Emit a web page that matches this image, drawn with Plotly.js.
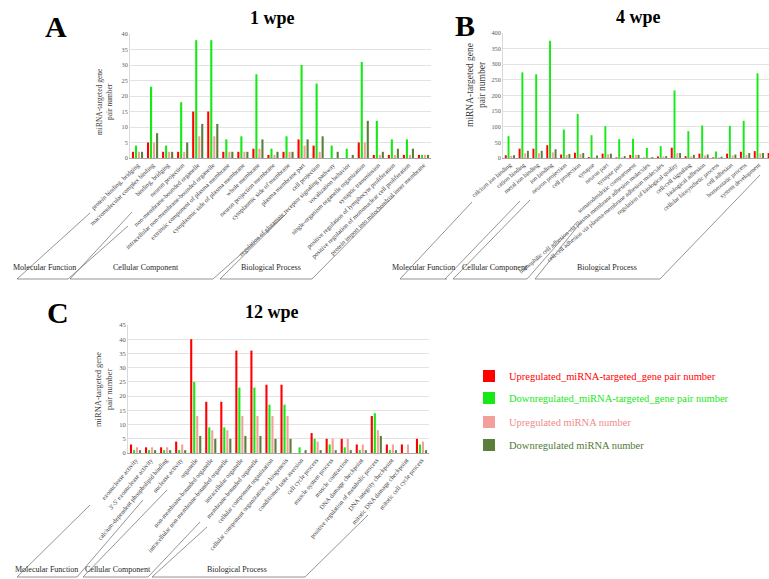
<!DOCTYPE html>
<html>
<head>
<meta charset="utf-8">
<script src="https://cdn.plot.ly/plotly-3.0.1.min.js"></script>
<style>html,body{margin:0;padding:0;background:#fff;}#chart{width:769px;height:579px;}</style>
</head>
<body>
<div id="chart"></div>
<script>
// ---------- DATA ----------
const seriesNames = [
  "Upregulated_miRNA-targeted_gene pair number",
  "Downregulated_miRNA-targeted_gene pair number",
  "Upregulated miRNA number",
  "Downregulated miRNA number"
];

const catsA = [
  "protein binding, bridging","macromolecular complex binding","binding, bridging",
  "neuron projection","non-membrane-bounded organelle","intracellular non-membrane-bounded organelle",
  "extrinsic component of plasma membrane","cytoplasmic side of plasma membrane","whole membrane",
  "neuron projection membrane","cytoplasmic side of membrane","plasma membrane part","cell projection",
  "regulation of glutamate receptor signaling pathway","vocalization behavior",
  "single-organism organelle organization","synaptic transmission",
  "positive regulation of lymphocyte proliferation","positive regulation of mononuclear cell proliferation",
  "protein import into mitochondrial inner membrane"
];
const upGeneA   = [2,5,2,2,15,15,2,2,3,1,2,6,4,0,0,5,1,1,1,1];
const downGeneA = [4,23,4,18,38,38,6,7,27,3,7,30,24,4,3,31,12,6,6,1];
const upMiA     = [2,5,2,2,7,7,2,2,3,1,2,4,2,0,0,5,1,1,1,1];
const downMiA   = [2,8,2,5,11,11,2,2,6,2,2,6,7,2,1,12,2,3,3,1];

const catsB = [
  "calcium ion binding","cation binding","metal ion binding","ion binding",
  "neuron projection","cell projection","synapse","neuron part","synapse part",
  "somatodendritic compartment",
  "homophilic cell adhesion via plasma membrane adhesion molecules",
  "cell-cell adhesion via plasma-membrane adhesion molecules",
  "regulation of biological quality","cell-cell signaling","biological adhesion",
  "cellular biosynthetic process","cell adhesion","homeostatic process","system development",
  "regulation of multicellular organismal process"
];
const upGeneB   = [9,30,30,41,11,17,3,14,2,10,1,5,33,6,14,2,14,20,22,16];
const downGeneB = [70,274,268,375,91,141,73,102,60,62,32,38,216,86,104,21,103,119,271,null];
const upMiB     = [7,15,15,18,10,13,2,12,2,10,1,5,16,5,8,2,8,10,15,null];
const downMiB   = [9,23,23,28,13,16,8,14,6,10,3,6,16,10,11,4,11,16,16,null];

const catsC = [
  "exonuclease activity","3'-5' exonuclease activity","calcium-dependent phospholipid binding",
  "nuclease activity","organelle","non-membrane-bounded organelle",
  "intracellular non-membrane-bounded organelle","intracellular organelle","membrane-bounded organelle",
  "cellular component organization","cellular component organization or biogenesis",
  "conditioned taste aversion","cell cycle process","muscle system process","muscle contraction",
  "DNA damage checkpoint","positive regulation of metabolic process","DNA integrity checkpoint",
  "mitotic DNA damage checkpoint","mitotic cell cycle process"
];
const upGeneC   = [3,2,2,4,40,18,18,36,36,24,24,0,7,5,5,3,13,3,3,5];
const downGeneC = [1,1,1,1,25,9,9,23,23,17,17,2,5,3,2,1,14,1,0,3];
const upMiC     = [2,2,2,3,13,8,8,13,13,13,13,0,4,5,5,3,8,3,3,4];
const downMiC   = [1,1,1,1,6,5,5,6,6,5,5,1,1,1,1,1,6,1,0,1];

const groupNames = ["Molecular Function","Cellular Component","Biological Process"];
const panelTitles = ["1 wpe","4 wpe","12 wpe"];
const panelLetters = ["A","B","C"];

// ---------- STYLE ----------
const W = 769, H = 579;
const SERIF = "Liberation Serif, Times New Roman, serif";
const barColors = ["#ff0000","#16ea16","#f3a09a","#5b7f3b"];
const legendColors = ["#ff0000","#17e817","#f08a8a","#4f7a35"];
const legendIds = ["legend","legend2","legend3","legend4"];
const px = x => x / W;
const py = y => 1 - y / H;

const panels = [
  {cats: catsA, vals: [upGeneA, downGeneA, upMiA, downMiA], xa: "x",  ya: "y"},
  {cats: catsB, vals: [upGeneB, downGeneB, upMiB, downMiB], xa: "x2", ya: "y2"},
  {cats: catsC, vals: [upGeneC, downGeneC, upMiC, downMiC], xa: "x3", ya: "y3"}
];

const traces = [];
panels.forEach((p, pi) => {
  p.vals.forEach((v, si) => {
    traces.push({
      type: "bar",
      x: p.cats,
      y: v,
      name: seriesNames[si],
      xaxis: p.xa,
      yaxis: p.ya,
      marker: {color: barColors[si]},
      showlegend: pi === 2,
      legend: legendIds[si],
      hoverinfo: "x+y"
    });
  });
});

function xAxis(anchor, domain, range, size, angle) {
  return {
    anchor: anchor,
    domain: domain, type: "category", range: range,
    tickmode: "linear", tick0: 0, dtick: 1,
    tickangle: angle, tickfont: {family: SERIF, size: size, color: "#3a3a3a"},
    showline: true, linecolor: "#a6a6a6", linewidth: 1,
    showgrid: false, zeroline: false, ticks: "", automargin: false, fixedrange: true
  };
}
function yAxis(anchor, domain, range, dtick, size) {
  return {
    anchor: anchor,
    domain: domain, range: range, tickmode: "linear", tick0: 0, dtick: dtick,
    tickfont: {family: SERIF, size: size, color: "#595959"},
    showline: true, linecolor: "#d9d9d9", linewidth: 1,
    showgrid: true, gridcolor: "#e3e3e3", gridwidth: 1,
    zeroline: false, ticks: "", automargin: false, fixedrange: true
  };
}

const annotations = [];
function addText(text, x, y, size, opts) {
  annotations.push(Object.assign({
    text: text, x: px(x), y: py(y), xref: "paper", yref: "paper",
    showarrow: false, xanchor: "center", yanchor: "middle",
    font: {family: SERIF, size: size, color: "#000"}
  }, opts || {}));
}
// letters and titles
addText("<b>" + panelLetters[0] + "</b>", 56, 27, 30);
addText("<b>" + panelLetters[1] + "</b>", 465, 26, 30);
addText("<b>" + panelLetters[2] + "</b>", 58, 312, 30);
addText("<b>" + panelTitles[0] + "</b>", 272, 18, 18);
addText("<b>" + panelTitles[1] + "</b>", 638, 17, 18);
addText("<b>" + panelTitles[2] + "</b>", 272, 312, 18);
// y-axis titles
const yTitle = "miRNA-targeted gene<br>pair number";
addText(yTitle, 105, 102, 7.5, {textangle: -90, font: {family: SERIF, size: 7.5, color: "#404040"}});
addText(yTitle, 476, 85, 9.5, {textangle: -90, font: {family: SERIF, size: 9.5, color: "#404040"}});
addText(yTitle, 104, 390, 8.5, {textangle: -90, font: {family: SERIF, size: 8.5, color: "#404040"}});
// group labels
const gFont = {family: SERIF, size: 8, color: "#262626"};
[[44,268],[146,268],[271,268]].forEach((c,i)=>addText(groupNames[i], c[0], c[1], 8, {font: gFont}));
[[423,268],[495,268],[607,268]].forEach((c,i)=>addText(groupNames[i], c[0], c[1], 8, {font: gFont}));
[[46,569],[118,569],[237,569]].forEach((c,i)=>addText(groupNames[i], c[0], c[1], 8, {font: gFont}));

// group bracket lines (decoration of the multi-level category axis)
const bracketSegs = [
  // A
  [17,279,68,279],[17,279,90,213],[68,279,128,226],
  [70,279,213,279],[70,279,132,212],[213,279,285,215],
  [220,279,312,279],[220,279,287,213],[312,279,395,195],
  // B
  [400,279,447,279],[400,279,472,202],[445,279,520,201],
  [453,279,527,279],[453,279,530,200],[527,279,577,222],
  [535,279,660,279],[535,279,582,221],[660,279,760,175],
  // C
  [17,577,77,577],[17,577,90,505],[77,577,143,500],
  [83,577,148,577],[83,577,167,490],[148,577,200,522],
  [152,577,305,577],[152,577,207,527],[305,577,368,515]
];
const shapes = bracketSegs.map(s => ({
  type: "line", xref: "paper", yref: "paper",
  x0: px(s[0]), y0: py(s[1]), x1: px(s[2]), y1: py(s[3]),
  line: {color: "#7a7a7a", width: 0.8}
}));

function legendAt(y, color) {
  return {
    x: px(469), y: py(y), xanchor: "left", yanchor: "middle",
    font: {family: SERIF, size: 10.5, color: color},
    bgcolor: "rgba(0,0,0,0)", borderwidth: 0, itemwidth: 30, itemclick: false
  };
}

const layout = {
  width: W, height: H,
  margin: {l: 0, r: 0, t: 0, b: 0},
  paper_bgcolor: "#fff", plot_bgcolor: "#fff",
  barmode: "group", bargap: 0.2, bargroupgap: 0.3,
  xaxis:  xAxis("y",  [px(130), px(431)], [-0.5, 19.5], 6.4, -44),
  yaxis:  yAxis("x",  [py(158), py(34)], [0, 40], 5, 6.2),
  xaxis2: xAxis("y2", [px(503), 1], [-0.5, 18.73], 6.2, -40),
  yaxis2: yAxis("x2", [py(158), py(33)], [0, 400], 50, 6.2),
  xaxis3: xAxis("y3", [px(128), px(429)], [-0.5, 19.5], 6.4, -50),
  yaxis3: yAxis("x3", [py(453), py(325)], [0, 45], 5, 6.5),
  legend:  legendAt(376, legendColors[0]),
  legend2: legendAt(398, legendColors[1]),
  legend3: legendAt(422, legendColors[2]),
  legend4: legendAt(445, legendColors[3]),
  annotations: annotations,
  shapes: shapes,
  hovermode: false
};

Plotly.newPlot("chart", traces, layout, {displayModeBar: false, staticPlot: true});
</script>
</body>
</html>
